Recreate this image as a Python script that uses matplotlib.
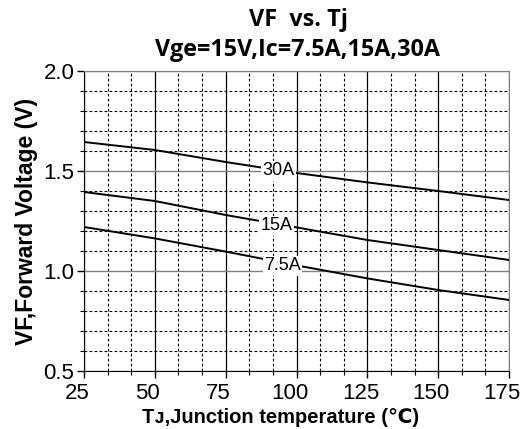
import matplotlib
matplotlib.use("Agg")
import matplotlib.pyplot as plt
import matplotlib.transforms as mtransforms
from matplotlib.ticker import MultipleLocator, FormatStrFormatter

# data
tj = [25, 50, 75, 100, 125, 150, 175]
vf_30a = [1.645, 1.605, 1.545, 1.49, 1.443, 1.40, 1.355]
vf_15a = [1.395, 1.35, 1.28, 1.218, 1.155, 1.105, 1.055]
vf_7a5 = [1.22, 1.163, 1.097, 1.028, 0.963, 0.905, 0.855]
curve_labels = ["30A", "15A", "7.5A"]
label_pos = [(93.5, 1.50), (93.0, 1.227), (95.0, 1.025)]

fig = plt.figure(figsize=(5.2, 4.29), dpi=100)
ax = fig.add_axes([0.1615, 0.1352, 0.8175, 0.6993])

for v in [vf_30a, vf_15a, vf_7a5]:
    ax.plot(tj, v, color="black", lw=1.4, zorder=3)

for lab, (x, y) in zip(curve_labels, label_pos):
    ax.text(x, y, lab, fontsize=13, family="Liberation Sans", ha="center", va="center",
            zorder=4, bbox=dict(facecolor="white", edgecolor="none", pad=1.0))

ax.set_xlim(25, 175)
ax.set_ylim(0.5, 2.0)
ax.xaxis.set_major_locator(MultipleLocator(25))
ax.xaxis.set_minor_locator(MultipleLocator(25 / 3))
ax.yaxis.set_major_locator(MultipleLocator(0.5))
ax.yaxis.set_minor_locator(MultipleLocator(0.1))
ax.yaxis.set_major_formatter(FormatStrFormatter("%.1f"))

ax.grid(which="major", axis="x", color="black", lw=0.9, ls="-")
ax.grid(which="major", axis="y", color="gray", lw=1.0, ls="-")
ax.grid(which="minor", color="black", lw=0.8, ls=(0, (2.5, 2.0)))
ax.set_axisbelow(True)

ax.tick_params(which="major", direction="out", length=5, width=1, labelsize=16, pad=2)
ax.tick_params(axis="x", which="major", pad=4)
ax.tick_params(which="minor", direction="out", length=3, width=0.8)
shift = mtransforms.ScaledTranslation(-7 / 100, 0, fig.dpi_scale_trans)
for lbl in ax.get_xticklabels():
    lbl.set_family("Liberation Sans")
    lbl.set_transform(lbl.get_transform() + shift)
for lbl in ax.get_yticklabels():
    lbl.set_family("Liberation Sans")
for sp in ["top", "right"]:
    ax.spines[sp].set_color("gray")

ax.set_xlabel("T\u1d0a,Junction temperature (\u2103)", fontsize=14.5, fontweight="bold",
              family=["Liberation Sans", "DejaVu Sans", "Noto Sans CJK SC"], labelpad=3)
ax.xaxis.set_label_coords(0.462, -0.125)
ax.set_ylabel("VF,Forward Voltage (V)", fontsize=16.5, fontweight="bold",
              family="Liberation Sans", labelpad=4)

fig.text(0.573, 0.953, "VF  vs. Tj", fontsize=16.8, fontweight="bold",
         family="Open Sans", ha="center", va="center")
fig.text(0.573, 0.884, "Vge=15V,Ic=7.5A,15A,30A", fontsize=16.8, fontweight="bold",
         family="Open Sans", ha="center", va="center")

fig.savefig("out.png", dpi=100)
